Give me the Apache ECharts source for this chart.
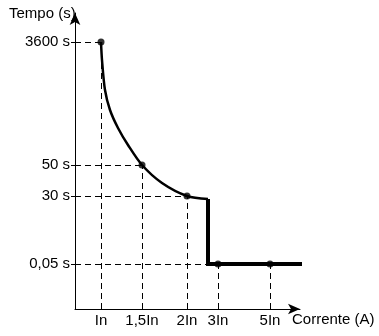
<!DOCTYPE html>
<html><head><meta charset="utf-8">
<script src="https://cdn.jsdelivr.net/npm/echarts@6/dist/echarts.min.js"></script>
<style>html,body{margin:0;padding:0;background:#fff}#c{width:379px;height:336px}</style>
</head><body><div id="c"></div>
<script>
// Schematic coordinates (axis has no numeric scale, only named positions)
const xTickLabels = ['In', '1,5In', '2In', '3In', '5In'];
const xTickValues = [26, 67, 112, 143, 195];
const yTickLabels = ['0,05 s', '30 s', '50 s', '3600 s'];
const yTickValues = [45, 113, 144, 267];

// Inverse-time curve
const curveX = [26, 27, 30, 35, 43, 53, 67, 87, 112, 133];
const curveY = [267, 249, 219, 199, 181, 164, 144, 126, 113, 110];

// Instantaneous trip: drop down to 0,05 s, then flat
const tripX = [133, 133, 230];
const tripY = [110, 45, 45];

// Marked points
const dotX = [26, 67, 112, 143, 195];
const dotY = [267, 144, 113, 45, 45];

// Dashed guides: [x, y] where guide meets the curve
const vGuides = [[26, 267], [67, 144], [112, 113], [143, 45], [195, 45]];
const hGuides = [[26, 267], [67, 144], [112, 113], [133, 45]];

const zip = (a, b) => a.map((v, i) => [v, b[i]]);
const guideLines = [];
vGuides.forEach(([x, y]) => guideLines.push([{coord: [x, 0]}, {coord: [x, y]}]));
hGuides.forEach(([x, y]) => guideLines.push([{coord: [0, y]}, {coord: [x, y]}]));

const font = 'Liberation Sans, Arial, sans-serif';
const chart = echarts.init(document.getElementById('c'));
chart.setOption({
  animation: false,
  title: {
    text: 'Tempo (s)', left: 4, top: 1,
    textStyle: {fontFamily: font, fontSize: 15, fontWeight: 'normal', color: '#000'}
  },
  grid: {left: 75, right: 79, top: 13, bottom: 27, containLabel: false, outerBoundsMode: 'none'},
  xAxis: {
    type: 'value', min: 0, max: 225,
    name: 'Corrente (A)', nameLocation: 'end', nameGap: -8,
    nameTextStyle: {fontFamily: font, fontSize: 15, color: '#000', verticalAlign: 'top', align: 'left', padding: [3, 0, 0, 0]},
    axisLine: {show: true, lineStyle: {color: '#000', width: 1}, symbol: ['none', 'arrow'], symbolSize: [8, 12]},
    axisTick: {show: false},
    splitLine: {show: false},
    axisLabel: {
      customValues: xTickValues, margin: 4,
      fontFamily: font, fontSize: 15, color: '#000',
      formatter: v => xTickLabels[xTickValues.indexOf(v)] || ''
    }
  },
  yAxis: {
    type: 'value', min: 0, max: 296,
    axisLine: {show: true, lineStyle: {color: '#000', width: 1}, symbol: ['none', 'arrow'], symbolSize: [8, 12]},
    axisTick: {show: true, customValues: yTickValues, length: 4, lineStyle: {color: '#000'}},
    splitLine: {show: false},
    axisLabel: {
      customValues: yTickValues, margin: 5,
      fontFamily: font, fontSize: 15, color: '#000',
      formatter: v => yTickLabels[yTickValues.indexOf(v)] || ''
    }
  },
  series: [
    {
      type: 'line', data: [], silent: true,
      markLine: {
        silent: true, symbol: 'none', label: {show: false},
        lineStyle: {color: '#000', width: 1, type: [6, 4]},
        emphasis: {disabled: true},
        data: guideLines
      }
    },
    {
      type: 'line', data: zip(curveX, curveY), smooth: 0.3, symbol: 'none',
      lineStyle: {color: '#000', width: 2.5}, z: 3
    },
    {
      type: 'line', data: zip(tripX, tripY), symbol: 'none', clip: false,
      lineStyle: {color: '#000', width: 4, join: 'miter'}, z: 3
    },
    {
      type: 'scatter', data: zip(dotX, dotY), symbolSize: 7,
      itemStyle: {color: '#000'}, z: 4
    }
  ]
});
</script></body></html>
